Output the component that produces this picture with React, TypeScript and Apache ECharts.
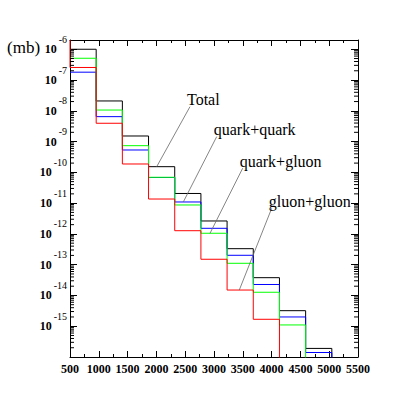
import React, { useEffect, useRef } from 'react';
import * as echarts from 'echarts';

// ---- data (cross sections in mb per mass bin) ----
const binEdges = [500, 954.5, 1409.1, 1863.6, 2318.2, 2772.7, 3227.3, 3681.8, 4136.4, 4590.9, 5045.5, 5500];
const total = [1.0e-6, 2.09e-8, 1.52e-9, 1.53e-10, 2.06e-11, 2.63e-12, 3.31e-13, 3.78e-14, 3.2e-15, 1.9e-16, 0];
const quarkQuark = [1.8e-7, 6.46e-9, 5.33e-10, 6.8e-11, 1.09e-11, 1.52e-12, 2.02e-13, 2.27e-14, 2.0e-15, 1.4e-16, 0];
const quarkGluon = [5.1e-7, 1.06e-8, 7.36e-10, 6.92e-11, 8.71e-12, 1.05e-12, 1.11e-13, 1.27e-14, 1.1e-15, 0, 0];
const gluonGluon = [2.56e-7, 3.94e-9, 1.87e-10, 1.36e-11, 1.27e-12, 1.5e-13, 1.5e-14, 1.68e-15, 0, 0, 0];
const seriesNames = ['Total', 'quark+quark', 'quark+gluon', 'gluon+gluon'];
const xTickLabels = [500, 1000, 1500, 2000, 2500, 3000, 3500, 4000, 4500, 5000, 5500];
const yDecades = [-16, -15, -14, -13, -12, -11, -10, -9, -8, -7, -6];
const yLabelDecades = [-15, -14, -13, -12, -11, -10, -9, -8, -7, -6];
const yUnit = '(mb)';

// annotation anchors (text start in data coordinates) and the bin each leader points to
const labelAnchorX = [2583, 3047, 3498, 4002];
const labelAnchorY = [1.36e-8, 1.45e-9, 1.36e-10, 6.81e-12];
const leaderEndX = [2005, 2467, 2931, 3439];
const leaderEndBin = [3, 4, 5, 6];

// ---- styling ----
const colors = ['#000000', '#0000ff', '#00ff00', '#ff0000'];
const FONT = 'Liberation Serif';
const X_MIN = 500;
const X_MAX = 5500;
const Y_MIN = -16;
const Y_MAX = Math.log10(2e-6);
const FLOOR = -20;

const toLog = (v: number) => (v > 0 ? Math.log10(v) : FLOOR);

function stepPoints(values: number[], fromTop: boolean) {
  const pts: number[][] = [];
  if (fromTop) pts.push([binEdges[0], Y_MAX]);
  values.forEach((v, i) => pts.push([binEdges[i], toLog(v)]));
  pts.push([binEdges[values.length], toLog(values[values.length - 1])]);
  return pts;
}

const allSeriesValues = [total, quarkQuark, quarkGluon, gluonGluon];

function buildOption() {
  const histSeries = allSeriesValues.map((vals, i) => ({
    name: seriesNames[i],
    type: 'line',
    step: 'end',
    symbol: 'none',
    showSymbol: false,
    clip: true,
    silent: true,
    lineStyle: { color: colors[i], width: 1 },
    data: stepPoints(vals, i === 3),
    z: 3 + i,
  }));

  const minorData: number[][] = [];
  yDecades.forEach((d) => {
    for (let m = 2; m <= 9; m++) {
      const v = d + Math.log10(m);
      if (v < Y_MAX) minorData.push([X_MIN, v]);
    }
  });

  const minorTickSeries = {
    type: 'custom',
    silent: true,
    clip: false,
    encode: { x: 0, y: 1 },
    data: minorData,
    z: 10,
    renderItem: (params: any, api: any) => {
      const v = api.value(1);
      const p = api.coord([X_MIN, v]);
      const q = api.coord([X_MAX, v]);
      return {
        type: 'group',
        children: [
          { type: 'line', shape: { x1: p[0], y1: p[1], x2: p[0] + 4, y2: p[1] }, style: { stroke: '#000', lineWidth: 1 } },
          { type: 'line', shape: { x1: q[0] - 4, y1: q[1], x2: q[0], y2: q[1] }, style: { stroke: '#000', lineWidth: 1 } },
        ],
      };
    },
  };

  const annData = seriesNames.map((_, i) => [
    labelAnchorX[i],
    Math.log10(labelAnchorY[i]),
    leaderEndX[i],
    toLog(allSeriesValues[i][leaderEndBin[i]]),
    i,
  ]);

  const annotationSeries = {
    type: 'custom',
    silent: true,
    clip: false,
    encode: { x: 0, y: 1 },
    data: annData,
    z: 20,
    renderItem: (params: any, api: any) => {
      const p = api.coord([api.value(0), api.value(1)]);
      const q = api.coord([api.value(2), api.value(3)]);
      const idx = api.value(4);
      return {
        type: 'group',
        children: [
          { type: 'line', shape: { x1: p[0], y1: p[1], x2: q[0], y2: q[1] }, style: { stroke: '#666', lineWidth: 0.8 } },
          {
            type: 'text',
            x: p[0] - 3,
            y: p[1] + 1,
            style: {
              text: seriesNames[idx],
              fontFamily: FONT,
              fontSize: 16,
              fill: '#000',
              align: 'left',
              verticalAlign: 'bottom',
            },
          },
        ],
      };
    },
  };

  const xAxisBase = {
    type: 'value',
    min: X_MIN,
    max: X_MAX,
    interval: 500,
    axisLine: { show: true, onZero: false, lineStyle: { color: '#000', width: 1 } },
    axisTick: { show: true, inside: true, length: 6, lineStyle: { color: '#000' } },
    minorTick: { show: true, splitNumber: 2, length: 3, lineStyle: { color: '#000' } },
    splitLine: { show: false },
  };

  const yAxisBase = {
    type: 'value',
    min: Y_MIN,
    max: Y_MAX,
    interval: 1,
    axisLine: { show: true, onZero: false, lineStyle: { color: '#000', width: 1 } },
    axisTick: { show: true, inside: true, length: 7, lineStyle: { color: '#000' } },
    splitLine: { show: false },
  };

  return {
    animation: false,
    backgroundColor: '#fff',
    textStyle: { fontFamily: FONT },
    grid: { left: 70, right: 41, top: 40, bottom: 42, containLabel: false },
    xAxis: [
      {
        ...xAxisBase,
        position: 'bottom',
        axisLabel: {
          show: true,
          margin: 6,
          color: '#000',
          fontFamily: FONT,
          fontSize: 12,
          fontWeight: 'bold',
          formatter: (v: number) => (xTickLabels.includes(v) ? String(v) : ''),
        },
      },
      { ...xAxisBase, position: 'top', axisLabel: { show: false } },
    ],
    yAxis: [
      {
        ...yAxisBase,
        position: 'left',
        axisLabel: {
          show: true,
          margin: 3,
          color: '#000',
          fontFamily: FONT,
          formatter: (v: number) => {
            const n = Math.round(v);
            if (Math.abs(v - n) > 1e-6 || !yLabelDecades.includes(n)) return '';
            return `{b|10}{e|${n}}`;
          },
          rich: {
            b: { fontSize: 12, fontWeight: 'bold', fontFamily: FONT, color: '#000', lineHeight: 30, verticalAlign: 'middle' },
            e: { fontSize: 10, fontFamily: FONT, color: '#000', lineHeight: 10, verticalAlign: 'top', padding: [0, 0, 0, 2] },
          },
        },
      },
      { ...yAxisBase, position: 'right', axisLabel: { show: false } },
    ],
    graphic: [
      {
        type: 'text',
        left: 7,
        top: 39,
        style: { text: yUnit, fontFamily: FONT, fontSize: 17, fill: '#000' },
      },
    ],
    series: [...histSeries, minorTickSeries, annotationSeries],
  };
}

export default function App() {
  const ref = useRef<HTMLDivElement>(null);
  useEffect(() => {
    if (!ref.current) return;
    const chart = echarts.init(ref.current, null, { renderer: 'svg' });
    chart.setOption(buildOption() as any);
    return () => chart.dispose();
  }, []);
  return (
    <div
      ref={ref}
      style={{ position: 'fixed', left: 0, top: 0, width: 399, height: 399, background: '#fff' }}
    />
  );
}
